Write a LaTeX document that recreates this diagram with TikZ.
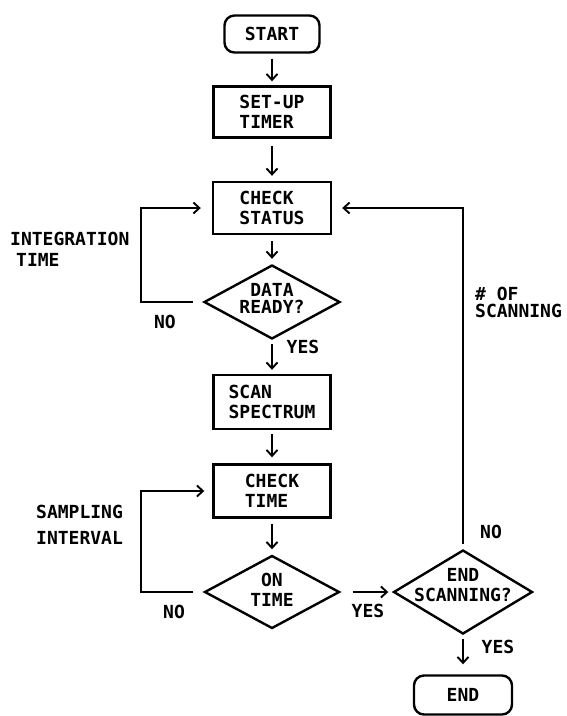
\documentclass[tikz,border=0pt]{standalone}
\usepackage{fontspec}
\setmainfont{DejaVu Sans Mono}
\usetikzlibrary{shapes.geometric,arrows.meta}
\begin{document}
\begin{tikzpicture}[x=1pt,y=-1pt,
  font=\fontsize{18}{20}\selectfont\bfseries,
  box/.style={draw, line width=2.4pt, inner sep=0pt, align=left},
  term/.style={box, rounded corners=10pt, align=center},
  dia/.style={draw, diamond, line width=2.4pt, inner sep=0pt},
  txt/.style={inner sep=0pt, align=center},
  lbl/.style={inner sep=0pt, align=left},
  arr/.style={line width=1.9pt, -{Straight Barb[length=6pt,width=11pt]}}]

\useasboundingbox (0,0) rectangle (566,716);

\node[term, minimum width=95pt, minimum height=37pt] (start) at (272,34) {START};
\node[box, minimum width=117pt, minimum height=51pt] (setup) at (272,112) {SET-UP\\TIMER};
\node[box, minimum width=118pt, minimum height=52pt] (status) at (272,208) {CHECK\\STATUS};
\node[dia, minimum width=136pt, minimum height=74pt] (ready) at (272,302) {};
\node[txt] (readyt) at (272,298) {DATA\\[-3pt]READY?};
\node[box, minimum width=117pt, minimum height=54pt] (scan) at (272,402) {SCAN\\SPECTRUM};
\node[box, minimum width=117pt, minimum height=53pt] (chk) at (272,491) {CHECK\\TIME};
\node[dia, minimum width=135pt, minimum height=73pt] (ontime) at (272,592) {};
\node[txt] (ontimet) at (272,590) {ON\\TIME};
\node[dia, minimum width=139pt, minimum height=84pt] (endscan) at (463,592) {};
\node[txt] (endscant) at (463,585) {END\\SCANNING?};
\node[term, minimum width=98pt, minimum height=39pt] (end) at (463,695) {END};

\node[lbl, anchor=west] (integ) at (10,249) {INTEGRATION\\[1pt]\hspace{6pt}TIME};
\node[lbl] (no1) at (165,322) {NO};
\node[lbl] (yes1) at (303,347) {YES};
\node[lbl, anchor=west] (sampl) at (36,525) {SAMPLING\\[6pt]INTERVAL};
\node[lbl] (no2) at (174,612) {NO};
\node[lbl] (yes2) at (368,611) {YES};
\node[lbl] (no3) at (491,532) {NO};
\node[lbl, anchor=west] (nscan) at (475,302) {\# OF\\[-3pt]SCANNING};
\node[lbl] (yes3) at (498,647) {YES};

\coordinate (lx) at (141,0);

\draw[arr, shorten <=5pt, shorten >=4pt] (start) -- (setup);
\draw[arr, shorten <=7pt, shorten >=5pt] (setup) -- (status);
\draw[arr, shorten <=6pt, shorten >=5pt] (status) -- (ready);
\draw[arr, shorten <=4pt, shorten >=4pt] (ready) -- (scan);
\draw[arr, shorten <=4pt, shorten >=6pt] (scan) -- (chk);
\draw[arr, shorten <=5pt, shorten >=5pt] (chk) -- (ontime);
\draw[arr, shorten <=12pt, shorten >=4pt] (ontime) -- (endscan);
\draw[arr, shorten <=4pt, shorten >=10pt] (endscan) -- (end);
\draw[arr, shorten <=10pt, shorten >=11pt] (ready.west) -- (ready.west -| lx) |- (status.west);
\draw[arr, shorten <=10pt, shorten >=8pt] (ontime.west) -- (ontime.west -| lx) |- (chk.west);
\draw[arr, shorten <=5pt, shorten >=10pt] (endscan.north) |- (status.east);
\end{tikzpicture}
\end{document}
